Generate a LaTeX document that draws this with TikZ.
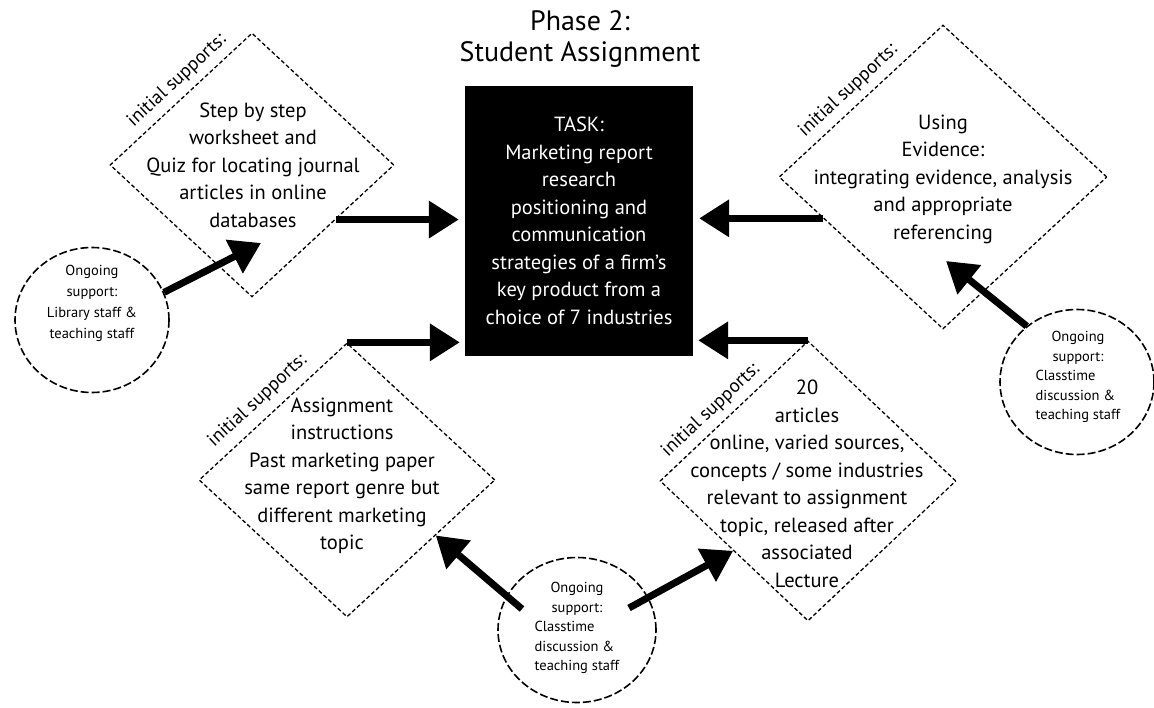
\documentclass[tikz,border=0pt]{standalone}
\usepackage{fontspec}
\setmainfont{PT Sans}
\usetikzlibrary{arrows.meta,shapes.geometric}
\begin{document}
\begin{tikzpicture}[x=1pt,y=-1pt,
  dia/.style={draw, diamond, dash pattern=on 4pt off 2.5pt, line width=1.3pt, inner sep=0pt},
  oval/.style={draw, ellipse, dash pattern=on 8pt off 3pt, line width=1.6pt, inner sep=0pt, minimum width=154pt, minimum height=145pt},
  body/.style={align=center, inner sep=0pt, font=\fontsize{20.5}{27.5}\selectfont},
  small/.style={align=center, inner sep=0pt, font=\fontsize{14.5}{19.5}\selectfont},
  lab/.style={sloped, inner sep=0pt, font=\fontsize{19}{21}\selectfont},
  heavy/.style={line width=7pt, -{Triangle[length=30pt,width=36pt]}}
]
\useasboundingbox (0,0) rectangle (1154,708);

% title
\node[align=center, inner sep=0pt, font=\fontsize{28}{31}\selectfont] (title) at (580,39) {Phase 2:\\Student Assignment};

% central task box
\node[fill=black, text=white, minimum width=228pt, minimum height=270pt, inner sep=0pt, body] (box) at (579,221)
  {TASK:\\Marketing report\\research\\positioning and\\communication\\strategies of a firm's\\key product from a\\choice of 7 industries};

% diamonds
\node[dia, minimum width=284pt, minimum height=264pt] (d1) at (252,165) {};
\node[dia, minimum width=328pt, minimum height=304pt] (d2) at (943,177) {};
\node[dia, minimum width=296pt, minimum height=274pt] (d3) at (347,480) {};
\node[dia, minimum width=296pt, minimum height=280pt] (d4) at (808,481) {};

\node[body] (t1) at (253,165) {Step by step\\worksheet and\\Quiz for locating journal\\articles in online\\databases};
\node[body] (t2) at (943,179) {Using\\Evidence:\\integrating evidence, analysis\\and appropriate\\referencing};
\node[body] (t3) at (342,476) {Assignment\\instructions\\Past marketing paper\\same report genre but\\different marketing\\topic};
\node[body] (t4) at (807,484) {20\\articles\\online, varied sources,\\concepts / some industries\\relevant to assignment\\topic, released after\\associated\\Lecture};

% labels
\path (d1.west) -- (d1.north) node[lab, pos=0.55, above=7pt] (l1) {initial supports:};
\path (d2.west) -- (d2.north) node[lab, pos=0.49, above=7pt] (l2) {initial supports:};
\path (d3.west) -- (d3.north) node[lab, pos=0.48, above=9pt] (l3) {initial supports:};
\path (d4.west) -- (d4.north) node[lab, pos=0.42, above=7pt] (l4) {initial supports:};

% ongoing support ovals
\node[oval] (c1) at (92,320) {};
\node[oval] (c2) at (1077,382) {};
\node[oval, minimum width=158pt] (c3) at (577,630) {};

\node[small, font=\fontsize{14.5}{21}\selectfont] (ct1) at (92,303) {Ongoing\\support:\\Library staff \&\\teaching staff};
\node[small] (ct2) at (1078,377) {\begin{tabular}{@{}l@{}}\multicolumn{1}{@{}c@{}}{Ongoing}\\\multicolumn{1}{@{}c@{}}{support:}\\Classtime\\discussion \&\\teaching staff\end{tabular}};
\node[small] (ct3) at (577,628) {\begin{tabular}{@{}l@{}}\multicolumn{1}{@{}c@{}}{Ongoing}\\\multicolumn{1}{@{}c@{}}{support:}\\Classtime\\discussion \&\\teaching staff\end{tabular}};

% free ends
\coordinate (p1) at (261,243);
\coordinate (p2) at (946,261);
\coordinate (s1) at (522,609);
\coordinate (s2) at (629,608);

% connectors into the task box
\draw[heavy, shorten >=6pt] (d1.-33) -- (d1.-33 -| box.west);
\draw[heavy, shorten >=6pt] (d2.199) -- (d2.199 -| box.east);
\draw[heavy, shorten >=5pt] (d3.north) -- (d3.north -| box.west);
\draw[heavy, shorten >=5pt] (d4.north) -- (d4.north -| box.east);

% ongoing support arrows
\draw[heavy] (c1.21) -- (p1);
\draw[heavy] (c2.132) -- (p2);
\draw[heavy] (s1) -- (d3.-32);
\draw[heavy] (s2) -- (d4.223);
\end{tikzpicture}
\end{document}
